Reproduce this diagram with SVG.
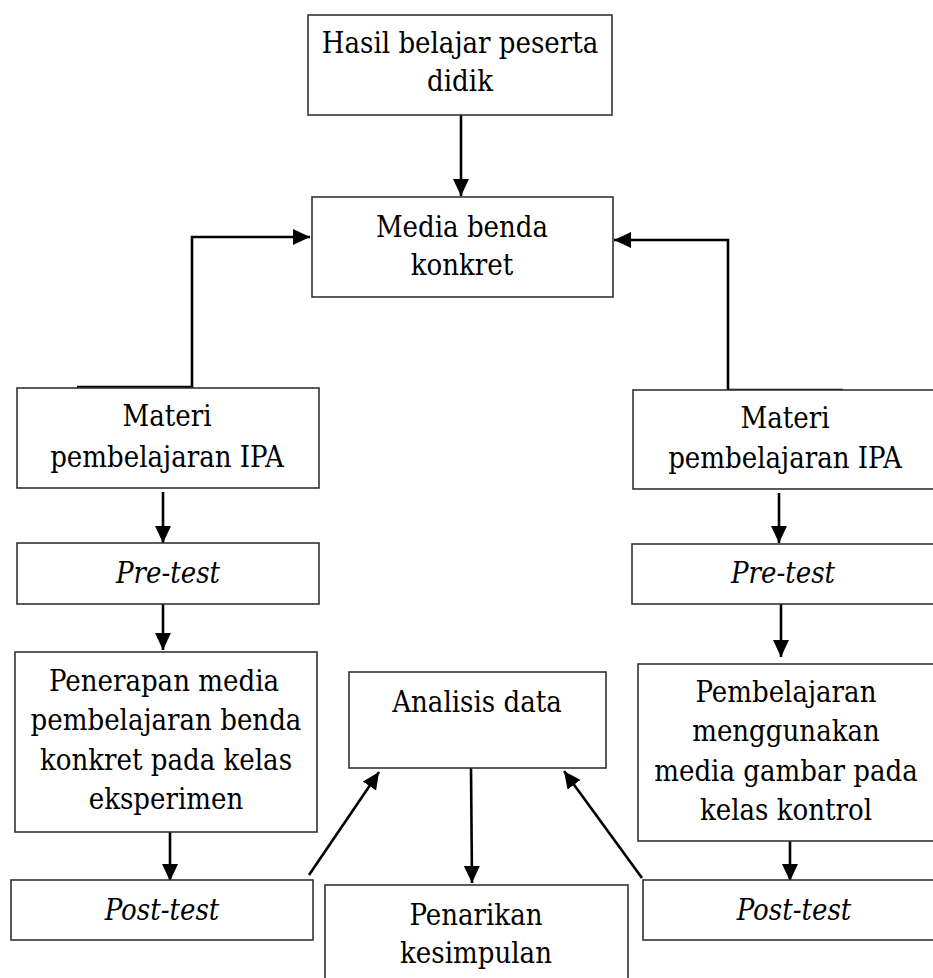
<svg xmlns="http://www.w3.org/2000/svg" width="933" height="978" viewBox="0 0 933 978">
<defs>
<marker id="ah" markerUnits="userSpaceOnUse" markerWidth="20" markerHeight="18" refX="17" refY="8" orient="auto">
<path d="M0,0 L17,8 L0,16 z" fill="#000"/>
</marker>
</defs>
<rect width="933" height="978" fill="#fff"/>
<g id="connectors" fill="none" stroke="#000" stroke-width="2.6">
<line x1="461" y1="115" x2="461" y2="196" marker-end="url(#ah)"/>
<polyline points="77,387 192,387 192,237 310,237" marker-end="url(#ah)"/>
<polyline points="843,390 728,390 728,240 614,240" marker-end="url(#ah)"/>
<line x1="163" y1="492" x2="163" y2="543" marker-end="url(#ah)"/>
<line x1="779" y1="493" x2="779" y2="543" marker-end="url(#ah)"/>
<line x1="163" y1="604" x2="163" y2="650" marker-end="url(#ah)"/>
<line x1="781" y1="604" x2="781" y2="657" marker-end="url(#ah)"/>
<line x1="170" y1="832" x2="170" y2="881" marker-end="url(#ah)"/>
<line x1="790" y1="832" x2="790" y2="881" marker-end="url(#ah)"/>
<line x1="309" y1="875" x2="379" y2="772" marker-end="url(#ah)"/>
<line x1="642" y1="878" x2="564" y2="771" marker-end="url(#ah)"/>
<line x1="471" y1="768" x2="472" y2="883" marker-end="url(#ah)"/>
</g>
<g font-family="'DejaVu Serif Condensed', 'DejaVu Serif', serif" font-stretch="condensed" font-size="29" text-anchor="middle" fill="#000">
<g id="hasil">
<rect fill="#fff" stroke="#333" stroke-width="1.6" x="308" y="15" width="304" height="100"/>
<text x="460" y="53">Hasil belajar peserta</text>
<text x="460" y="91">didik</text>
</g>
<g id="media">
<rect fill="#fff" stroke="#333" stroke-width="1.6" x="312" y="197" width="301" height="100"/>
<text x="462" y="237">Media benda</text>
<text x="462" y="275">konkret</text>
</g>
<g id="materi-kiri">
<rect fill="#fff" stroke="#333" stroke-width="1.6" x="17" y="388" width="302" height="100"/>
<text x="167" y="426">Materi</text>
<text x="167" y="467">pembelajaran IPA</text>
</g>
<g id="materi-kanan">
<rect fill="#fff" stroke="#333" stroke-width="1.6" x="633" y="390" width="310" height="99"/>
<text x="785" y="428">Materi</text>
<text x="785" y="468">pembelajaran IPA</text>
</g>
<g id="pretest-kiri">
<rect fill="#fff" stroke="#333" stroke-width="1.6" x="17" y="543" width="302" height="61"/>
<text font-style="italic" x="168" y="583">Pre-test</text>
</g>
<g id="pretest-kanan">
<rect fill="#fff" stroke="#333" stroke-width="1.6" x="632" y="544" width="311" height="60"/>
<text font-style="italic" x="783" y="583">Pre-test</text>
</g>
<g id="penerapan">
<rect fill="#fff" stroke="#333" stroke-width="1.6" x="15" y="652" width="302" height="180"/>
<text x="164" y="691">Penerapan media</text>
<text x="166" y="730">pembelajaran benda</text>
<text x="166" y="770">konkret pada kelas</text>
<text x="166" y="809">eksperimen</text>
</g>
<g id="analisis">
<rect fill="#fff" stroke="#333" stroke-width="1.6" x="349" y="672" width="257" height="96"/>
<text x="477" y="712">Analisis data</text>
</g>
<g id="pembelajaran">
<rect fill="#fff" stroke="#333" stroke-width="1.6" x="638" y="664" width="305" height="177"/>
<text x="786" y="702">Pembelajaran</text>
<text x="786" y="741">menggunakan</text>
<text x="786" y="781">media gambar pada</text>
<text x="786" y="820">kelas kontrol</text>
</g>
<g id="posttest-kiri">
<rect fill="#fff" stroke="#333" stroke-width="1.6" x="11" y="880" width="302" height="60"/>
<text font-style="italic" x="162" y="920">Post-test</text>
</g>
<g id="penarikan">
<rect fill="#fff" stroke="#333" stroke-width="1.6" x="325" y="885" width="303" height="110"/>
<text x="476" y="925">Penarikan</text>
<text x="476" y="963">kesimpulan</text>
</g>
<g id="posttest-kanan">
<rect fill="#fff" stroke="#333" stroke-width="1.6" x="643" y="880" width="300" height="60"/>
<text font-style="italic" x="794" y="920">Post-test</text>
</g>
</g>
</svg>
